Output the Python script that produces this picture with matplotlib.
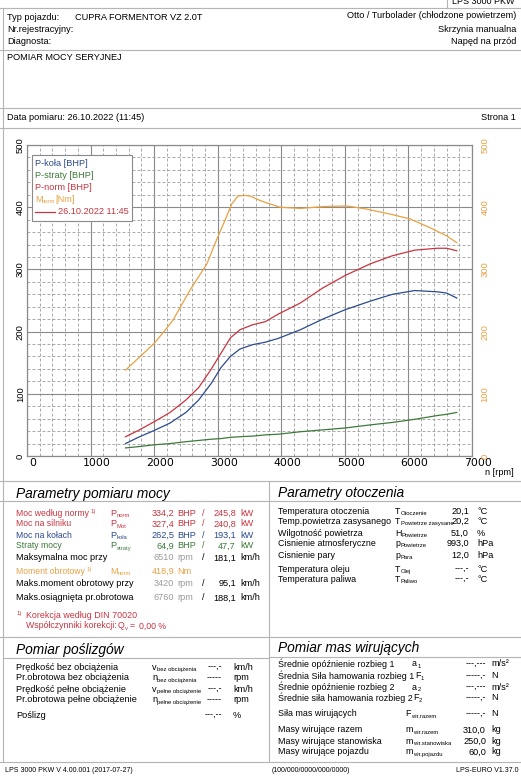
import matplotlib.pyplot as plt
import matplotlib.transforms as mtransforms
from matplotlib.patches import Rectangle
from matplotlib.ticker import MultipleLocator

plt.rcParams['font.family'] = ['Liberation Sans', 'DejaVu Sans']

W, H = 521, 777

# ---- curves --------------------------------------------------------------
rpm_p = [1550, 1750, 2000, 2250, 2500, 2700, 2900, 3050, 3200, 3350, 3550,
         3750, 3950, 4300, 4650, 5000, 5400, 5750, 6100, 6450, 6600, 6760]
p_norm = [31, 41, 55, 70, 90, 110, 140, 165, 190, 203, 211,
          216, 228, 246, 270, 290, 309, 322, 331, 334, 334, 330]
p_kola = [20, 30, 41, 53, 70, 90, 117, 142, 160, 172, 179,
          183, 189, 203, 220, 235, 249, 260, 266, 264, 262, 254]
p_straty = [13, 15, 18, 20, 23, 25, 27, 28, 30, 31, 32,
            34, 35, 39, 42, 45, 50, 54, 59, 65, 67, 70]
rpm_m = [1550, 2000, 2170, 2300, 2560, 2830, 2980, 3090, 3220, 3320, 3420,
         3510, 3660, 3770, 3980, 4300, 4660, 5030, 5340, 5710, 6030, 6340,
         6600, 6760]
m_norm = [138, 181, 202, 219, 266, 309, 347, 373, 405, 418, 419,
          418, 411, 407, 400, 398, 401, 402, 397, 389, 381, 367,
          354, 343]

# ---- table values ---------------------------------------------------------
moc_labels = ["Moc według normy", "Moc na silniku", "Moc na kołach", "Straty mocy"]
moc_syms = ["norm", "Mot", "koła", "straty"]
moc_bhp = ["334,2", "327,4", "262,5", "64,9"]
moc_kw = ["245,8", "240,8", "193,1", "47,7"]
maks_labels = ["Maksymalna moc przy", "Maks.moment obrotowy przy",
               "Maks.osiągnięta pr.obrotowa"]
maks_rpm = ["6510", "3420", "6760"]
maks_kmh = ["181,1", "95,1", "188,1"]

otocz_labels = ["Temperatura otoczenia", "Temp.powietrza zasysanego",
                "Wilgotność powietrza", "Cisnienie atmosferyczne",
                "Cisnienie pary", "Temperatura oleju", "Temperatura paliwa"]
otocz_syms = [("T", "Otoczenie"), ("T", "Powietrze zasysane"), ("H", "Powietrze"),
              ("p", "Powietrze"), ("p", "Para"), ("T", "Olej"), ("T", "Paliwo")]
otocz_vals = ["20,1", "20,2", "51,0", "993,0", "12,0", "---,-", "---,-"]
otocz_units = ["°C", "°C", "%", "hPa", "hPa", "°C", "°C"]

posl_labels = ["Prędkość bez obciążenia", "Pr.obrotowa bez obciążenia",
               "Prędkość pełne obciążenie", "Pr.obrotowa pełne obciążenie",
               "Poślizg"]
posl_syms = [("v", "bez obciążenia"), ("n", "bez obciążenia"),
             ("v", "pełne obciążenie"), ("n", "pełne obciążenie"), None]
posl_vals = ["---,-", "-----", "---,-", "-----", "---,--"]
posl_units = ["km/h", "rpm", "km/h", "rpm", "%"]

mas_labels = ["Średnie opóźnienie rozbieg 1", "Średnia Siła hamowania rozbieg 1",
              "Średnie opóźnienie rozbieg 2", "Średnie siła hamowania rozbieg 2",
              "Siła mas wirujących", "Masy wirujące razem",
              "Masy wirujące stanowiska", "Masy wirujące pojazdu"]
mas_syms = [("a", "1"), ("F", "1"), ("a", "2"), ("F", "2"), ("F", "wir.razem"),
            ("m", "wir.razem"), ("m", "wir.stanowiska"), ("m", "wir.pojazdu")]
mas_vals = ["---,---", "-----,-", "---,---", "-----,-", "-----,-",
            "310,0", "250,0", "60,0"]
mas_units = ["m/s²", "N", "m/s²", "N", "N", "kg", "kg", "kg"]

C_RED, C_BLUE, C_GREEN, C_ORANGE = "#c8343f", "#2c4a8e", "#3d7a3a", "#e9a142"
C_GRAY, C_LINE = "#9a9a9a", "#b4b4b4"
FS = 6.6
SUB = 4.2

fig = plt.figure(figsize=(W / 100, H / 100), dpi=100)
rend = fig.canvas.get_renderer()


def T(x, y, s, **kw):
    kw.setdefault("fontsize", FS)
    kw.setdefault("va", "center")
    return fig.text(x / W, 1 - y / H, s, **kw)


def right(t):
    # right edge of a drawn text, in page pixels
    return t.get_window_extent(rend).x1


def S(x, y, main, sub, color="black", fs=FS):
    t = T(x, y, main, color=color, fontsize=fs)
    T(right(t) + 0.3, y + 2.6, sub, color=color, fontsize=SUB)


def hline(y, x0=0, x1=W):
    fig.add_artist(plt.Line2D([x0 / W, x1 / W], [1 - y / H, 1 - y / H],
                              color=C_LINE, lw=0.8))


def vline(x, y0, y1):
    fig.add_artist(plt.Line2D([x / W, x / W], [1 - y0 / H, 1 - y1 / H],
                              color=C_LINE, lw=0.8))


# ---- page frame -----------------------------------------------------------
for y in (8, 50, 108, 128, 481):
    hline(y)
vline(3, 8, 762)
vline(447, 0, 8)
T(452, 2, "LPS 3000 PKW", fontsize=6.5)

T(7, 17, "Typ pojazdu:")
T(75, 17, "CUPRA FORMENTOR VZ 2.0T")
T(7, 30, "Nr.rejestracyjny:")
T(7, 42, "Diagnosta:")
T(516, 16, "Otto / Turbolader (chłodzone powietrzem)", ha="right")
T(516, 29, "Skrzynia manualna", ha="right")
T(516, 42, "Napęd na przód", ha="right")
T(7, 57, "POMIAR MOCY SERYJNEJ")
T(7, 118, "Data pomiaru: 26.10.2022 (11:45)")
T(516, 117, "Strona 1", ha="right")

# ---- chart ----------------------------------------------------------------
ax = fig.add_axes([27 / W, 1 - 456 / H, 445 / W, 311 / H])
ax2 = ax.twinx()
for a in (ax, ax2):
    a.set_xlim(0, 7000)
    a.set_ylim(0, 500)
    for s in a.spines.values():
        s.set_color("#8a8a8a")
        s.set_linewidth(0.8)

ax.xaxis.set_major_locator(MultipleLocator(1000))
ax.xaxis.set_minor_locator(MultipleLocator(200))
ax.yaxis.set_major_locator(MultipleLocator(100))
ax.yaxis.set_minor_locator(MultipleLocator(20))
ax.grid(which="major", color="#8a8a8a", lw=0.8)
ax.grid(which="minor", color="#9a9a9a", lw=0.6, ls=(0, (3.5, 2.5)))
ax.set_axisbelow(True)
ax.tick_params(which="both", length=0)
ax.tick_params(axis="x", pad=1.5)
ax.tick_params(axis="y", pad=1.5, labelsize=6.8)
for lab in ax.get_yticklabels():
    lab.set_rotation(90)
    lab.set_va("center")
off = mtransforms.ScaledTranslation(6 / 100, 0, fig.dpi_scale_trans)
for lab in ax.get_xticklabels():
    lab.set_transform(lab.get_transform() + off)
    lab.set_fontfamily("DejaVu Sans")
    lab.set_fontsize(7.8)

ax2.yaxis.set_major_locator(MultipleLocator(100))
ax2.tick_params(length=0, labelsize=6.8, labelcolor=C_ORANGE, pad=6)
for lab in ax2.get_yticklabels():
    lab.set_rotation(90)
    lab.set_va("center")

ax.plot(rpm_p, p_straty, color=C_GREEN, lw=0.9)
ax.plot(rpm_p, p_kola, color=C_BLUE, lw=0.9)
ax.plot(rpm_p, p_norm, color=C_RED, lw=0.9)
ax2.plot(rpm_m, m_norm, color=C_ORANGE, lw=0.9)

T(499, 472, "n [rpm]", ha="center")

# legend box (drawn by hand, like the printout)
fig.add_artist(Rectangle((32 / W, 1 - 221 / H), 100 / W, 66 / H,
                         transform=fig.transFigure, facecolor="white",
                         edgecolor="#8a8a8a", lw=0.8, zorder=5))
leg = [("P-koła [BHP]", C_BLUE), ("P-straty [BHP]", C_GREEN),
       ("P-norm [BHP]", C_RED)]
for i, (s, c) in enumerate(leg):
    T(35, 164 + i * 11.7, s, color=c, zorder=6)
T(35, 199, "M", color=C_ORANGE, zorder=6)
T(42, 201.5, "norm", color=C_ORANGE, fontsize=SUB, zorder=6)
T(55, 199, "[Nm]", color=C_ORANGE, zorder=6)
fig.add_artist(plt.Line2D([35 / W, 55 / W], [1 - 212 / H, 1 - 212 / H],
                          color=C_RED, lw=0.9, zorder=6))
T(58, 212, "26.10.2022 11:45", color=C_RED, zorder=6)

# ---- bottom sections ------------------------------------------------------
vline(269, 481, 762)
hline(501)
hline(637)
hline(658, 3, 269)
hline(657, 269, W)
hline(762)

HS = 9.9
T(16, 494, "Parametry pomiaru mocy", fontsize=HS, style="italic")
T(278, 493, "Parametry otoczenia", fontsize=HS, style="italic")
T(16, 650, "Pomiar poślizgów", fontsize=HS, style="italic")
T(278, 648, "Pomiar mas wirujących", fontsize=HS, style="italic")

moc_cols = [C_RED, C_RED, C_BLUE, C_GREEN]
moc_y = [513, 524, 535, 546]
for i, (lab, sm, b, k, c, y) in enumerate(zip(moc_labels, moc_syms, moc_bhp,
                                              moc_kw, moc_cols, moc_y)):
    t = T(16, y, lab, color=c, fontsize=6.2)
    if i == 0:
        T(right(t) + 2, y - 2, "1)", color=c, fontsize=SUB)
    S(110, y, "P", sm, c)
    T(174, y, b, color=c, ha="right")
    T(177, y, "BHP", color=c)
    T(203, y, "/", color=c, ha="center")
    T(236, y, k, color=c, ha="right")
    T(240, y, "kW", color=c)

t = T(16, 571, "Moment obrotowy", color=C_ORANGE, fontsize=6.2)
T(right(t) + 2, 569, "1)", color=C_ORANGE, fontsize=SUB)
S(110, 571, "M", "norm", C_ORANGE)
T(174, 571, "418,9", color=C_ORANGE, ha="right")
T(177, 571, "Nm", color=C_ORANGE)

for lab, r, v, y in zip(maks_labels, maks_rpm, maks_kmh, [558, 583, 598]):
    T(16, y, lab)
    T(174, y, r, color=C_GRAY, ha="right")
    T(177, y, "rpm", color=C_GRAY)
    T(203, y, "/", ha="center")
    T(236, y, v, ha="right")
    T(240, y, "km/h")

T(17, 613, "1)", color=C_RED, fontsize=SUB)
T(26, 615, "Korekcja według DIN 70020", color=C_RED, fontsize=6.4)
T(26, 626, "Współczynniki korekcji:", color=C_RED, fontsize=6.3)
S(118, 626, "Q", "v", C_RED, fs=6.3)
T(130, 626, "=", color=C_RED, fontsize=6.3)
T(139, 626, "0,00 %", color=C_RED, fontsize=6.3)

RS = 6.4
for lab, (a, b), v, u, y in zip(otocz_labels, otocz_syms, otocz_vals,
                                otocz_units, [511, 521, 533, 543, 555, 569, 579]):
    T(278, y, lab, fontsize=RS)
    S(395, y, a, b, fs=RS)
    T(469, y, v, ha="right")
    T(477, y, u)

for lab, s, v, u, y in zip(posl_labels, posl_syms, posl_vals, posl_units,
                           [667, 678, 689, 700, 715]):
    T(16, y, lab)
    if s:
        S(152, y, *s)
    T(222, y, v, ha="right")
    T(233, y, u)

for lab, (a, b), v, u, y in zip(mas_labels, mas_syms, mas_vals, mas_units,
                                [664, 676, 687, 698, 714, 730, 741, 752]):
    t = T(278, y, lab, fontsize=RS)
    sx = 405 if y > 700 else max(412, right(t) + 0.5)
    S(sx, y, a, b, fs=RS)
    T(486, y, v, ha="right")
    T(491, y, u)

T(5, 771, "LPS 3000 PKW V 4.00.001 (2017-07-27)", fontsize=5)
T(272, 771, "(100/000/0000/000/0000)", fontsize=5)
T(519, 771, "LPS-EURO V1.37.0", fontsize=5, ha="right")

fig.savefig("out.png", dpi=100, facecolor="white")
